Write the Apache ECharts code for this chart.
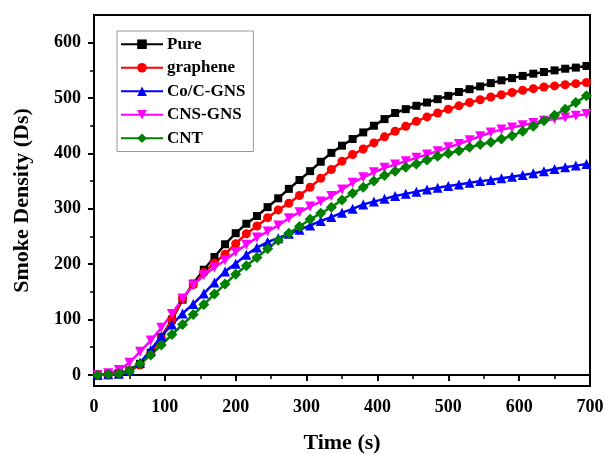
<!DOCTYPE html>
<html>
<head>
<meta charset="utf-8">
<script src="https://cdn.jsdelivr.net/npm/echarts@6/dist/echarts.min.js"></script>
<style>
  html, body { margin: 0; padding: 0; background: #fff; }
  #chart { width: 606px; height: 455px; }
</style>
</head>
<body>
<div id="chart"></div>
<script>
// Sampling times (s)
const time = [5,20,35,50,65,80,95,110,125,140,155,170,185,200,215,230,245,260,275,290,305,320,335,350,365,380,395,410,425,440,455,470,485,500,515,530,545,560,575,590,605,620,635,650,665,680,695];

// Smoke density (Ds) per sample
const pure = [0,1,3,8,20,40,68,100,136,165,190,213,236,256,273,287,303,319,336,352,368,385,401,414,426,438,450,462,473,480,486,492,498,504,511,516,521,527,532,536,540,544,547,550,553,555,558];
const graphene = [0,0,2,7,18,38,66,100,138,163,185,202,218,237,255,269,284,298,310,324,339,355,371,386,398,408,419,430,440,449,458,466,473,480,486,492,497,502,506,510,514,517,520,522,524,526,528];
const coCGNS = [0,1,2,8,22,45,70,91,111,128,147,167,187,201,217,230,240,247,255,262,270,278,285,293,300,308,313,318,323,327,331,335,338,341,344,347,350,352,355,358,361,364,368,372,375,378,381];
const cnsGNS = [0,3,9,22,42,62,85,110,138,162,180,194,207,222,235,248,259,270,283,294,304,313,323,335,347,357,366,374,380,386,392,398,404,411,417,424,431,438,443,447,451,455,459,462,465,468,471];
const cnt = [0,1,2,7,20,36,54,73,91,109,127,146,164,182,197,212,228,243,256,268,281,292,303,316,328,339,350,360,368,375,381,388,395,400,405,411,416,420,426,432,440,449,459,469,480,492,504];

// Axis tick values
const xTicks = [0,100,200,300,400,500,600,700];
const yTicks = [0,100,200,300,400,500,600];
const yMinorTicks = [50,150,250,350,450,550];

const serifFont = '"Liberation Serif", "DejaVu Serif", serif';

function pairs(values) {
  return time.map((t, i) => [t, values[i]]);
}

function lineSeries(name, values, color, symbol, size, rotate) {
  return {
    name: name,
    type: 'line',
    data: pairs(values),
    symbol: symbol,
    symbolSize: size,
    symbolRotate: rotate || 0,
    showSymbol: true,
    lineStyle: { color: color, width: 2.5 },
    itemStyle: { color: color },
    emphasis: { disabled: true },
    animation: false
  };
}

const chart = echarts.init(document.getElementById('chart'), null, { renderer: 'canvas' });

chart.setOption({
  backgroundColor: '#ffffff',
  animation: false,
  grid: {
    left: 94, right: 16, top: 15, bottom: 69,
    outerBoundsMode: 'none',
    containLabel: false,
    show: true, borderColor: '#000', borderWidth: 2, backgroundColor: 'transparent'
  },
  legend: {
    orient: 'vertical',
    left: 117, top: 31,
    backgroundColor: '#fff',
    borderColor: '#999', borderWidth: 1,
    padding: [4, 8, 4, 3],
    itemWidth: 42, itemHeight: 12, itemGap: 5,
    textStyle: { fontFamily: serifFont, fontWeight: 'bold', fontSize: 17, color: '#000', lineHeight: 18.5, padding: [0, 0, 0, -1] },
    data: ['Pure', 'graphene', 'Co/C-GNS', 'CNS-GNS', 'CNT']
  },
  xAxis: {
    type: 'value',
    min: 0, max: 700, interval: 100,
    name: 'Time (s)',
    nameLocation: 'middle',
    nameGap: 46,
    nameTextStyle: { fontFamily: serifFont, fontWeight: 'bold', fontSize: 22, color: '#000' },
    axisLine: { show: true, lineStyle: { color: '#000', width: 2 } },
    axisTick: { show: true, inside: false, length: 6, lineStyle: { color: '#000', width: 2 } },
    minorTick: { show: true, splitNumber: 2, length: 4, lineStyle: { color: '#000', width: 1.5 } },
    axisLabel: {
      margin: 12,
      fontFamily: serifFont, fontWeight: 'bold', fontSize: 18, color: '#000',
      customValues: xTicks
    },
    splitLine: { show: false },
    minorSplitLine: { show: false }
  },
  yAxis: [
    {
      type: 'value',
      min: -20, max: 650,
      name: 'Smoke Density (Ds)',
      nameLocation: 'middle',
      nameGap: 61,
      nameTextStyle: { fontFamily: serifFont, fontWeight: 'bold', fontSize: 22, color: '#000' },
      axisLine: { show: true, lineStyle: { color: '#000', width: 2 } },
      axisTick: { show: true, inside: false, length: 6, lineStyle: { color: '#000', width: 2 }, customValues: yTicks },
      axisLabel: {
        margin: 13,
        fontFamily: serifFont, fontWeight: 'bold', fontSize: 18, color: '#000',
        customValues: yTicks
      },
      splitLine: { show: false }
    },
    {
      // minor ticks between the labelled ones
      type: 'value',
      position: 'left',
      min: -20, max: 650,
      axisLine: { show: false },
      axisTick: { show: true, inside: false, length: 4, lineStyle: { color: '#000', width: 1.5 }, customValues: yMinorTicks },
      axisLabel: { show: false, customValues: yMinorTicks },
      splitLine: { show: false }
    }
  ],
  series: [
    lineSeries('Pure', pure, '#000000', 'rect', 8),
    lineSeries('graphene', graphene, '#ff0000', 'circle', 9),
    lineSeries('Co/C-GNS', coCGNS, '#0000ff', 'triangle', 10),
    lineSeries('CNS-GNS', cnsGNS, '#ff00ff', 'triangle', 10, 180),
    lineSeries('CNT', cnt, '#008000', 'diamond', 11)
  ]
});
</script>
</body>
</html>
